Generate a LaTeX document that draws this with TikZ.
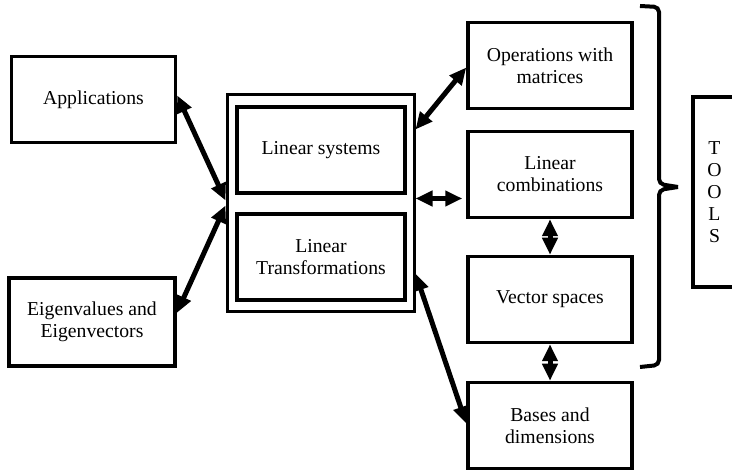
\documentclass[tikz,border=0pt]{standalone}
\usepackage{fontspec}
\setmainfont{Liberation Serif}
\usetikzlibrary{arrows.meta}

\begin{document}
\begin{tikzpicture}[
  x=1pt, y=-1pt,
  font=\fontsize{19.7}{22}\selectfont, >={Triangle[length=17pt,width=15pt]},
  box/.style={draw, line width=3.5pt, align=center, inner sep=0pt},
  topic/.style={box, minimum width=164pt, minimum height=86pt},
  part/.style={box, minimum width=168pt, minimum height=86pt},
  link/.style={<->, line width=5pt},
]
\useasboundingbox (0,0) rectangle (732,470);
\clip (0,0) rectangle (732,470);
% ---- left column
\node[topic] (app) at (93.5,99.5) {Applications};
\node[topic, minimum width=166pt, minimum height=88pt] (eig) at (92,322) {Eigenvalues and\\Eigenvectors};
% ---- core block
\node[box, line width=3pt, minimum width=187pt, minimum height=217pt] (core) at (320.5,203.5) {};
\node[part] (sys) at (321,150) {Linear systems};
\node[part] (trans) at (321,257) {Linear\\Transformations};
% ---- right column
\node[topic] (ops) at (550,65.5) {Operations with\\matrices};
\node[topic] (comb) at (550,174.5) {Linear\\combinations};
\node[topic] (vsp) at (550,299.5) {Vector spaces};
\node[topic] (bas) at (550,425.5) {Bases and\\dimensions};
% ---- tools
\node[box, minimum width=43pt, minimum height=190pt] (tools) at (714.5,192) {T\\O\\O\\L\\S};
% brace round the tools
\coordinate (btop) at (640,6);
\coordinate (btip) at (678,187);
\coordinate (bbot) at (640,367);
\draw[line width=4pt, rounded corners=5pt] (btop) -- (659,7) -- (659,184) -- (btip);
\draw[line width=4pt, rounded corners=5pt] (btip) -- (659,190) -- (659,365) -- (bbot);
% ---- connectors
\draw[link] ([yshift=4pt]app.east) -- ([yshift=3pt]core.west);
\draw[link] ([yshift=9pt]eig.east) -- ([yshift=-2pt]core.west);
\draw[link] ([yshift=74pt]core.east) -- ([yshift=-2pt]ops.west);
\draw[link] ([yshift=5pt]core.east) -- ([yshift=5pt,xshift=-4pt]core.east -| comb.west);
\draw[link] ([yshift=-70pt]core.east) -- ([yshift=2pt]bas.west);
\draw[link] (comb) -- (vsp);
\draw[link] (vsp) -- (bas);
\end{tikzpicture}
\end{document}
